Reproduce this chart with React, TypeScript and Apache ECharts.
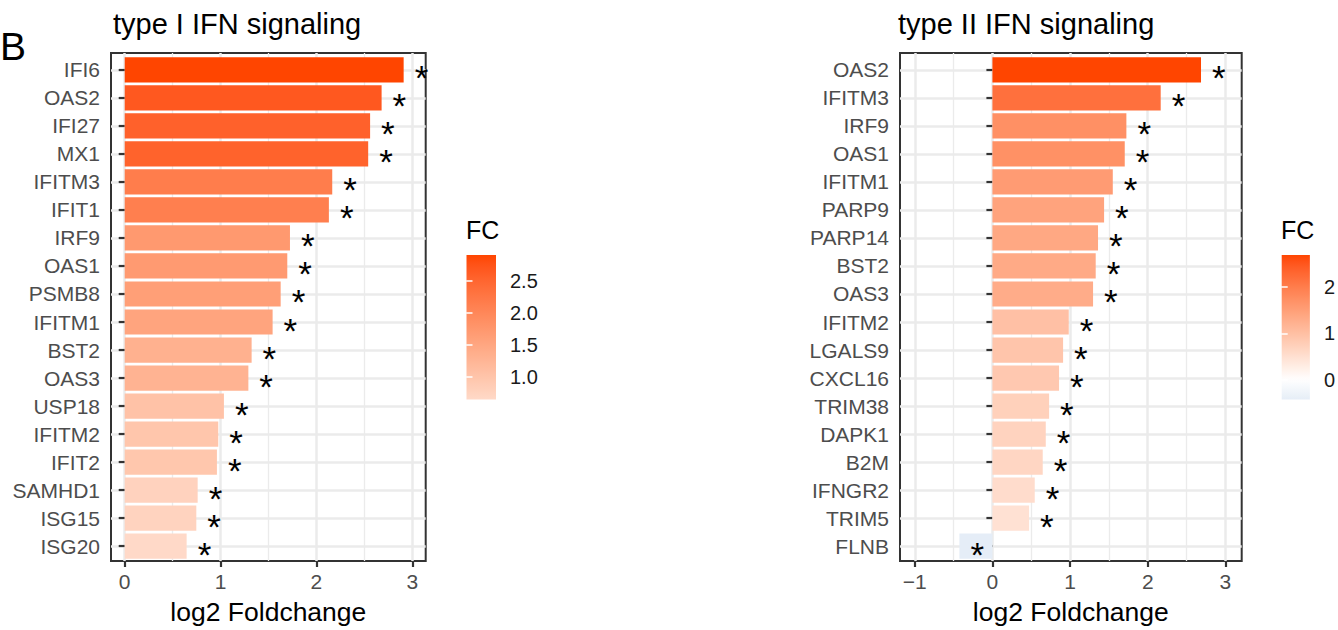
import React, { useEffect, useRef } from "react";
import * as echarts from "echarts";

// ---------------- data ----------------
const genesTypeI = ["IFI6", "OAS2", "IFI27", "MX1", "IFITM3", "IFIT1", "IRF9", "OAS1", "PSMB8", "IFITM1", "BST2", "OAS3", "USP18", "IFITM2", "IFIT2", "SAMHD1", "ISG15", "ISG20"];
const fcTypeI = [2.91, 2.68, 2.56, 2.54, 2.165, 2.13, 1.724, 1.696, 1.627, 1.543, 1.324, 1.29, 1.035, 0.976, 0.962, 0.761, 0.747, 0.646];
const genesTypeII = ["OAS2", "IFITM3", "IRF9", "OAS1", "IFITM1", "PARP9", "PARP14", "BST2", "OAS3", "IFITM2", "LGALS9", "CXCL16", "TRIM38", "DAPK1", "B2M", "IFNGR2", "TRIM5", "FLNB"];
const fcTypeII = [2.686, 2.167, 1.725, 1.704, 1.55, 1.438, 1.36, 1.33, 1.296, 0.983, 0.91, 0.858, 0.73, 0.687, 0.648, 0.545, 0.472, -0.425];
const xTicksTypeI = [0, 1, 2, 3];
const xTicksTypeII = [-1, 0, 1, 2, 3];
const legendTicksTypeI = [1.0, 1.5, 2.0, 2.5];
const legendTicksTypeII = [0, 1, 2];
const panelTitles = ["type I IFN signaling", "type II IFN signaling"];
const panelTag = "B";
const xAxisTitle = "log2 Foldchange";
const legendTitle = "FC";

// ---------------- colour (ggplot2 scale_fill_gradient2 in Lab) ----------------
const LOW = "#4C94C9";
const MID = "#FFFFFF";
const HIGH = "#FF4500";

function hexToRgb(h: string) {
  const n = parseInt(h.slice(1), 16);
  return [(n >> 16) & 255, (n >> 8) & 255, n & 255];
}
function toLin(c: number) {
  c /= 255;
  return c <= 0.04045 ? c / 12.92 : Math.pow((c + 0.055) / 1.055, 2.4);
}
function fromLin(c: number) {
  const v = c <= 0.0031308 ? 12.92 * c : 1.055 * Math.pow(c, 1 / 2.4) - 0.055;
  return Math.max(0, Math.min(255, Math.round(v * 255)));
}
const Xn = 0.95047, Yn = 1.0, Zn = 1.08883;
function f(t: number) {
  return t > 216 / 24389 ? Math.cbrt(t) : (t * 24389 / 27 + 16) / 116;
}
function finv(t: number) {
  const t3 = t * t * t;
  return t3 > 216 / 24389 ? t3 : (116 * t - 16) * 27 / 24389;
}
function hexToLab(h: string) {
  const [r, g, b] = hexToRgb(h).map(toLin);
  const X = 0.4124 * r + 0.3576 * g + 0.1805 * b;
  const Y = 0.2126 * r + 0.7152 * g + 0.0722 * b;
  const Z = 0.0193 * r + 0.1192 * g + 0.9505 * b;
  const fx = f(X / Xn), fy = f(Y / Yn), fz = f(Z / Zn);
  return [116 * fy - 16, 500 * (fx - fy), 200 * (fy - fz)];
}
function labToHex(L: number, a: number, bb: number) {
  const fy = (L + 16) / 116;
  const fx = fy + a / 500;
  const fz = fy - bb / 200;
  const X = finv(fx) * Xn, Y = finv(fy) * Yn, Z = finv(fz) * Zn;
  const r = 3.2406 * X - 1.5372 * Y - 0.4986 * Z;
  const g = -0.9689 * X + 1.8758 * Y + 0.0415 * Z;
  const b = 0.0557 * X - 0.204 * Y + 1.057 * Z;
  return "#" + [r, g, b].map((c) => fromLin(c).toString(16).padStart(2, "0")).join("");
}
const labLow = hexToLab(LOW), labMid = hexToLab(MID), labHigh = hexToLab(HIGH);
function mixLab(a: number[], b: number[], t: number) {
  return labToHex(a[0] + (b[0] - a[0]) * t, a[1] + (b[1] - a[1]) * t, a[2] + (b[2] - a[2]) * t);
}
function makeScale(values: number[]) {
  const lim = Math.max(...values.map(Math.abs));
  return (v: number) => {
    const t = v / lim;
    return t >= 0 ? mixLab(labMid, labHigh, Math.min(1, t)) : mixLab(labMid, labLow, Math.min(1, -t));
  };
}

// ---------------- layout ----------------
const FONT = "'Liberation Sans', Arial, Helvetica, sans-serif";
const panels = [
  {
    genes: genesTypeI, fc: fcTypeI, ticks: xTicksTypeI, legendTicks: legendTicksTypeI, title: panelTitles[0],
    left: 111, width: 314.7, top: 53, height: 510, xMin: -0.143, xMax: 3.14,
    titleX: 113, legendX: 466.5, legendW: 29.5, fcX: 466,
  },
  {
    genes: genesTypeII, fc: fcTypeII, ticks: xTicksTypeII, legendTicks: legendTicksTypeII, title: panelTitles[1],
    left: 900, width: 341.7, top: 53, height: 510, xMin: -1.19, xMax: 3.21,
    titleX: 898, legendX: 1281.7, legendW: 29.3, fcX: 1281,
  },
];
const LEGEND_TOP = 255;
const LEGEND_H = 144.5;

function fmtNum(v: number) {
  return v < 0 ? "\u2212" + Math.abs(v) : String(v);
}

function buildOption() {
  const grid: any[] = [];
  const xAxis: any[] = [];
  const yAxis: any[] = [];
  const series: any[] = [];
  const graphic: any[] = [];

  panels.forEach((p, pi) => {
    const n = p.genes.length;
    const unit = p.height / (n + 0.2);
    const colorFn = makeScale(p.fc);
    const dmin = Math.min(...p.fc), dmax = Math.max(...p.fc);
    const minorTicks = p.ticks.slice(0, -1).map((t, i) => (t + p.ticks[i + 1]) / 2);
    const rowCentres = p.genes.map((_, i) => i + 0.5);

    const gBase = pi * 3;
    grid.push({ left: p.left, top: p.top, width: p.width, height: p.height, show: true, borderColor: "#333333", borderWidth: 2, backgroundColor: "transparent" });
    grid.push({ left: p.left, top: p.top + unit * 0.1, width: p.width, height: unit * n });
    grid.push({ left: p.legendX, top: LEGEND_TOP, width: p.legendW, height: LEGEND_H });

    const xBase = xAxis.length;
    xAxis.push({
      gridIndex: gBase, type: "value", min: p.xMin, max: p.xMax,
      axisLine: { show: false },
      axisTick: { show: true, customValues: p.ticks, length: 6, lineStyle: { color: "#333333", width: 2.2 } },
      axisLabel: { customValues: p.ticks, formatter: (v: number) => fmtNum(v), color: "#4d4d4d", fontSize: 21, margin: 10, fontFamily: FONT },
      splitLine: { show: true, lineStyle: { color: "#ebebeb", width: 2.5 } },
      name: xAxisTitle, nameLocation: "middle", nameGap: 37,
      nameTextStyle: { fontSize: 26.5, color: "#000", fontFamily: FONT },
    });
    xAxis.push({
      gridIndex: gBase, type: "value", min: p.xMin, max: p.xMax,
      axisLine: { show: false },
      axisTick: { show: false, customValues: minorTicks },
      axisLabel: { show: false, customValues: minorTicks },
      splitLine: { show: true, lineStyle: { color: "#ebebeb", width: 1.3 } },
    });
    xAxis.push({ gridIndex: gBase + 1, type: "value", min: p.xMin, max: p.xMax, show: false });
    xAxis.push({ gridIndex: gBase + 2, type: "value", min: 0, max: 1, show: false });

    const yBase = yAxis.length;
    yAxis.push({ gridIndex: gBase, type: "value", show: false });
    yAxis.push({
      gridIndex: gBase + 1, type: "category", data: p.genes, inverse: true,
      axisLine: { show: false },
      axisTick: { show: true, alignWithLabel: true, length: 6, lineStyle: { color: "#333333", width: 2.2 } },
      axisLabel: { color: "#4d4d4d", fontSize: 21, margin: 11, fontFamily: FONT },
      splitLine: { show: false },
    });
    yAxis.push({
      gridIndex: gBase + 1, type: "value", min: 0, max: n, inverse: true,
      axisLine: { show: false },
      axisTick: { show: false, customValues: rowCentres },
      axisLabel: { show: false, customValues: rowCentres },
      splitLine: { show: true, lineStyle: { color: "#ebebeb", width: 2.5 } },
    });
    yAxis.push({
      gridIndex: gBase + 2, type: "value", min: dmin, max: dmax, position: "right", z: 10,
      axisLine: { show: false },
      axisTick: { show: true, inside: true, length: 6, customValues: p.legendTicks, lineStyle: { color: "#ffffff", width: 1.5 } },
      axisLabel: { customValues: p.legendTicks, formatter: (v: number) => (p.legendTicks.some((t) => !Number.isInteger(t)) ? v.toFixed(1) : fmtNum(v)), color: "#1a1a1a", fontSize: 20, margin: 14, fontFamily: FONT },
      splitLine: { show: false },
    });
    yAxis.push({
      gridIndex: gBase + 2, type: "value", min: dmin, max: dmax, position: "left", z: 10,
      axisLine: { show: false },
      axisTick: { show: true, inside: true, length: 6, customValues: p.legendTicks, lineStyle: { color: "#ffffff", width: 1.5 } },
      axisLabel: { show: false },
      splitLine: { show: false },
    });

    series.push({
      type: "bar",
      xAxisIndex: xBase + 2,
      yAxisIndex: yBase + 1,
      barWidth: "90%",
      z: 2,
      data: p.fc.map((v) => ({
        value: v,
        itemStyle: { color: colorFn(v) },
        label: { position: v >= 0 ? "right" : "insideLeft" },
      })),
      label: { show: true, formatter: "*", distance: 11, fontSize: 35, lineHeight: 20, color: "#000", offset: [0, 8], fontFamily: FONT },
    });

    const stops: any[] = [];
    const NS = 40;
    for (let i = 0; i <= NS; i++) {
      const v = dmin + ((dmax - dmin) * i) / NS;
      stops.push({ offset: i / NS, color: colorFn(v) });
    }
    series.push({
      type: "custom",
      xAxisIndex: xBase + 3,
      yAxisIndex: yBase + 3,
      silent: true,
      z: 1,
      data: [[0.5, dmin]],
      renderItem: (params: any) => {
        const cs = params.coordSys;
        return {
          type: "rect",
          shape: { x: cs.x, y: cs.y, width: cs.width, height: cs.height },
          style: { fill: { type: "linear", x: 0, y: 1, x2: 0, y2: 0, colorStops: stops } },
        };
      },
    });

    graphic.push({
      type: "text", x: p.titleX, y: 24,
      style: { text: p.title, fontSize: 29, fill: "#000", fontFamily: FONT, verticalAlign: "middle", align: "left" },
    });
    graphic.push({
      type: "text", x: p.fcX, y: 229.5,
      style: { text: legendTitle, fontSize: 25, fill: "#000", fontFamily: FONT, verticalAlign: "middle", align: "left" },
    });
  });

  graphic.push({
    type: "text", x: 0, y: 46,
    style: { text: panelTag, fontSize: 39, fill: "#000", fontFamily: FONT, verticalAlign: "middle", align: "left" },
  });

  return {
    animation: false,
    backgroundColor: "#ffffff",
    textStyle: { fontFamily: FONT },
    grid, xAxis, yAxis, series, graphic,
  };
}

export default function App() {
  const ref = useRef<HTMLDivElement>(null);
  useEffect(() => {
    if (!ref.current) return;
    const chart = echarts.init(ref.current, null, { renderer: "svg" });
    chart.setOption(buildOption() as any);
    return () => chart.dispose();
  }, []);
  return <div ref={ref} style={{ position: "fixed", left: 0, top: 0, width: 1338, height: 630 }} />;
}
